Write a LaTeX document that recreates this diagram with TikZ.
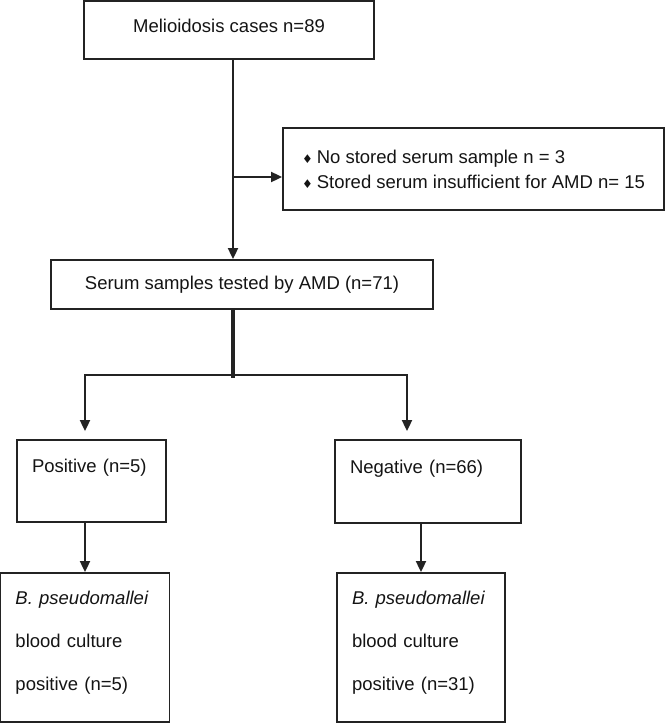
\documentclass[tikz,border=0pt]{standalone}
\usepackage{fontspec}
\setmainfont{Liberation Sans}
\newfontfamily\symfont{DejaVu Sans}
\usepackage{xcolor}
\definecolor{linegray}{RGB}{35, 35, 35}
\definecolor{textblack}{RGB}{20, 20, 20}
\usepackage{tikz}
\usetikzlibrary{positioning, arrows.meta}

\newcommand{\dbul}{{\symfont\fontsize{12}{12}\selectfont ♦}\hspace{4pt}}

\begin{document}
\begin{tikzpicture}[
  x=1pt, y=-1pt,
  flowbox/.style={rectangle, draw=linegray, line width=1.8pt, inner sep=0pt, text=textblack, font=\fontsize{18.5}{25}\selectfont},
  resbox/.style={flowbox, align=left, inner xsep=15pt, text width=#1},
  cultbox/.style={resbox=#1, minimum height=149pt, text height=4pt, font=\fontsize{18.5}{43}\selectfont},
  arrow/.style={-{Triangle[length=11pt, width=10pt]}, line width=1.8pt, draw=linegray},
  stem/.style={line width=4.5pt, draw=linegray}
]
  \useasboundingbox (0,0) rectangle (666,724);

  % Nodes
  \node[flowbox, minimum width=290pt, minimum height=58pt, text height=14pt, text depth=10pt] (cases) at (229,30) {Melioidosis cases n=89};
  \node[flowbox, minimum width=381pt, minimum height=82pt, align=left] (excl) at (473.5,169) {\dbul No stored serum sample n = 3\\\dbul Stored serum insufficient for AMD n= 15};
  \node[flowbox, minimum width=382pt, minimum height=49pt] (serum) at (242,284.5) {Serum samples tested by AMD (n=71)};
  \node[resbox=119pt, minimum height=82pt, text height=14pt, text depth=31pt] (pos) at (91.5,481) {Positive (n=5)};
  \node[resbox=156pt, minimum height=83pt, text height=14pt, text depth=31pt] (neg) at (428,481.5) {Negative (n=66)};
  \node[cultbox=139pt] (posbc) at (85,647.5) {\textit{B. pseudomallei}\\blood culture\\positive (n=5)};
  \node[cultbox=138pt] (negbc) at (421,647.5) {\textit{B. pseudomallei}\\blood culture\\positive (n=31)};

  % Helper points
  \coordinate (trunk) at ([xshift=4pt]cases.south);
  \coordinate (exclin) at ([yshift=-8pt]excl.west);
  \coordinate[below=65pt of serum.south, xshift=-9pt] (fork);

  % Arrows
  \draw[arrow] (trunk) -- (trunk |- serum.north);
  \draw[arrow] (trunk |- exclin) -- (exclin);
  \draw[stem] ([xshift=-9pt]serum.south) -- ([yshift=-3pt]fork);
  \draw[arrow, shorten >=8pt] (fork) -| ([xshift=-6.5pt]pos.north);
  \draw[arrow, shorten >=8pt] (fork) -| ([xshift=-21pt]neg.north);
  \draw[arrow] (pos.south -| posbc.north) -- (posbc.north);
  \draw[arrow] (neg.south -| negbc.north) -- (negbc.north);
\end{tikzpicture}
\end{document}
